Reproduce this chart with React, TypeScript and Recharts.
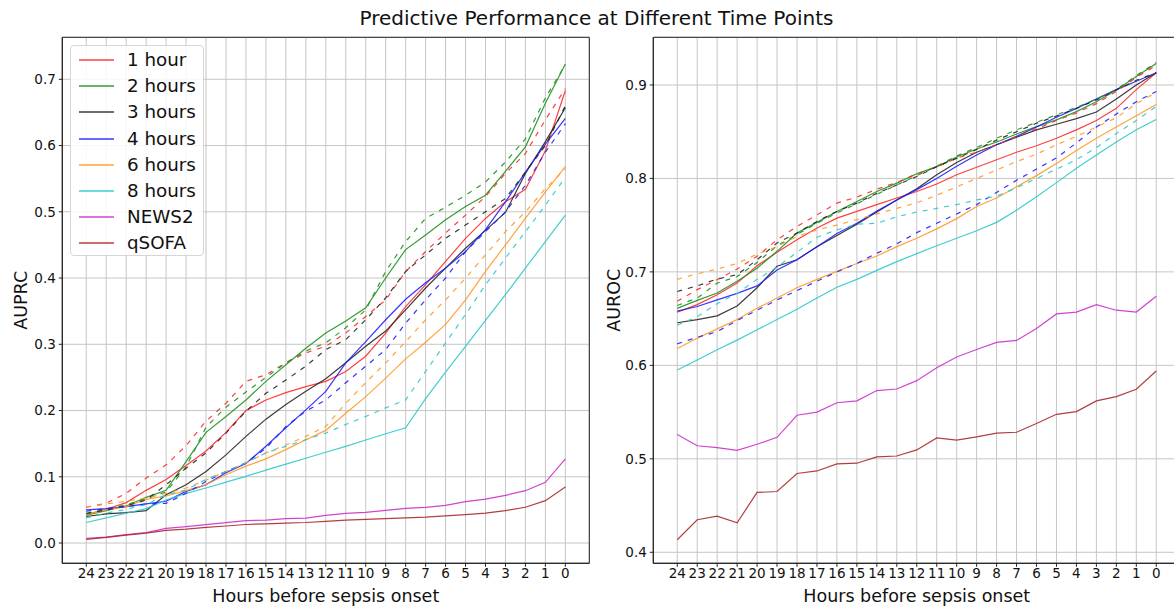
import { LineChart, Line, XAxis, YAxis, CartesianGrid, ReferenceArea, Label } from 'recharts';

const hours = [24, 23, 22, 21, 20, 19, 18, 17, 16, 15, 14, 13, 12, 11, 10, 9, 8, 7, 6, 5, 4, 3, 2, 1, 0];

// AUPRC, solid
const prc1h = [0.043, 0.051, 0.061, 0.0795, 0.096, 0.117, 0.139, 0.167, 0.2, 0.216, 0.227, 0.236, 0.244, 0.259, 0.282, 0.317, 0.357, 0.39, 0.425, 0.46, 0.49, 0.515, 0.534, 0.592, 0.683];
const prc2h = [0.042, 0.049, 0.056, 0.069, 0.0795, 0.123, 0.167, 0.191, 0.216, 0.244, 0.269, 0.294, 0.317, 0.335, 0.355, 0.4, 0.443, 0.465, 0.488, 0.508, 0.525, 0.561, 0.598, 0.664, 0.723];
const prc3h = [0.04, 0.044, 0.046, 0.049, 0.073, 0.088, 0.108, 0.133, 0.161, 0.187, 0.209, 0.229, 0.248, 0.272, 0.297, 0.32, 0.352, 0.385, 0.415, 0.445, 0.472, 0.499, 0.558, 0.606, 0.657];
const prc4h = [0.05, 0.052, 0.055, 0.059, 0.063, 0.078, 0.088, 0.106, 0.12, 0.146, 0.174, 0.201, 0.229, 0.272, 0.304, 0.337, 0.368, 0.393, 0.415, 0.44, 0.473, 0.515, 0.56, 0.602, 0.641];
const prc6h = [0.043, 0.05, 0.055, 0.066, 0.071, 0.079, 0.088, 0.103, 0.116, 0.127, 0.141, 0.156, 0.17, 0.196, 0.221, 0.249, 0.278, 0.303, 0.33, 0.367, 0.41, 0.45, 0.49, 0.53, 0.568];
const prc8h = [0.031, 0.038, 0.045, 0.052, 0.065, 0.075, 0.083, 0.092, 0.1007, 0.11, 0.119, 0.128, 0.137, 0.146, 0.1555, 0.165, 0.174, 0.218, 0.258, 0.297, 0.336, 0.375, 0.415, 0.455, 0.495];
const prcNews2 = [0.007, 0.009, 0.0126, 0.0156, 0.022, 0.0247, 0.0277, 0.0307, 0.0337, 0.0347, 0.0367, 0.0377, 0.0418, 0.0448, 0.0463, 0.0493, 0.0523, 0.0538, 0.0569, 0.0624, 0.0664, 0.072, 0.079, 0.0916, 0.127];
const prcQsofa = [0.0055, 0.0086, 0.012, 0.015, 0.019, 0.021, 0.0237, 0.0257, 0.028, 0.029, 0.03, 0.031, 0.0327, 0.0347, 0.0357, 0.0367, 0.038, 0.039, 0.041, 0.043, 0.045, 0.049, 0.054, 0.064, 0.0845];
// AUPRC, dashed
const prc1hD = [0.054, 0.06, 0.075, 0.098, 0.118, 0.147, 0.184, 0.211, 0.244, 0.254, 0.272, 0.287, 0.297, 0.317, 0.342, 0.367, 0.41, 0.44, 0.468, 0.495, 0.523, 0.558, 0.588, 0.639, 0.686];
const prc2hD = [0.044, 0.05, 0.058, 0.067, 0.077, 0.115, 0.175, 0.205, 0.228, 0.25, 0.272, 0.29, 0.302, 0.325, 0.352, 0.41, 0.455, 0.49, 0.507, 0.525, 0.545, 0.575, 0.61, 0.672, 0.722];
const prc3hD = [0.045, 0.05, 0.056, 0.065, 0.088, 0.113, 0.136, 0.166, 0.199, 0.226, 0.246, 0.267, 0.292, 0.307, 0.337, 0.37, 0.41, 0.435, 0.46, 0.48, 0.5, 0.52, 0.56, 0.6, 0.66];
const prc4hD = [0.048, 0.052, 0.055, 0.059, 0.06, 0.075, 0.093, 0.108, 0.121, 0.143, 0.176, 0.199, 0.216, 0.242, 0.267, 0.292, 0.332, 0.367, 0.4, 0.44, 0.47, 0.5, 0.54, 0.59, 0.633];
const prc6hD = [0.054, 0.059, 0.063, 0.068, 0.075, 0.083, 0.095, 0.108, 0.121, 0.136, 0.148, 0.161, 0.176, 0.211, 0.242, 0.272, 0.304, 0.337, 0.367, 0.4, 0.435, 0.47, 0.5, 0.535, 0.565];
const prc8hD = [0.038, 0.045, 0.051, 0.058, 0.073, 0.08, 0.096, 0.108, 0.121, 0.136, 0.146, 0.156, 0.166, 0.179, 0.191, 0.204, 0.216, 0.259, 0.302, 0.345, 0.39, 0.43, 0.47, 0.51, 0.552];

// AUROC, solid
const roc1h = [0.657, 0.665, 0.6756, 0.688, 0.7066, 0.721, 0.7344, 0.747, 0.7575, 0.7647, 0.772, 0.779, 0.786, 0.794, 0.804, 0.812, 0.82, 0.828, 0.835, 0.843, 0.852, 0.862, 0.875, 0.895, 0.913];
const roc2h = [0.661, 0.6695, 0.6774, 0.69, 0.704, 0.722, 0.7415, 0.753, 0.7647, 0.7754, 0.786, 0.795, 0.805, 0.8126, 0.823, 0.8315, 0.839, 0.8475, 0.8554, 0.8626, 0.8715, 0.882, 0.8947, 0.909, 0.923];
const roc3h = [0.6456, 0.649, 0.653, 0.6635, 0.683, 0.706, 0.713, 0.727, 0.739, 0.751, 0.764, 0.777, 0.789, 0.804, 0.817, 0.828, 0.836, 0.844, 0.852, 0.858, 0.864, 0.871, 0.885, 0.9, 0.913];
const roc4h = [0.658, 0.663, 0.67, 0.677, 0.685, 0.702, 0.713, 0.727, 0.741, 0.752, 0.765, 0.777, 0.788, 0.8, 0.813, 0.825, 0.836, 0.845, 0.855, 0.8654, 0.875, 0.885, 0.895, 0.904, 0.913];
const roc6h = [0.618, 0.629, 0.639, 0.649, 0.661, 0.672, 0.683, 0.692, 0.7006, 0.709, 0.717, 0.727, 0.736, 0.746, 0.757, 0.77, 0.779, 0.791, 0.803, 0.816, 0.83, 0.843, 0.855, 0.867, 0.879];
const roc8h = [0.595, 0.6058, 0.6166, 0.627, 0.638, 0.649, 0.66, 0.672, 0.6835, 0.692, 0.7016, 0.711, 0.7195, 0.728, 0.736, 0.744, 0.753, 0.766, 0.7805, 0.7955, 0.811, 0.825, 0.839, 0.852, 0.863];
const rocNews2 = [0.526, 0.514, 0.512, 0.509, 0.5156, 0.523, 0.5466, 0.55, 0.56, 0.562, 0.573, 0.5747, 0.5836, 0.5975, 0.609, 0.617, 0.6246, 0.6267, 0.6395, 0.655, 0.657, 0.665, 0.659, 0.657, 0.674];
const rocQsofa = [0.4134, 0.4348, 0.4387, 0.4316, 0.464, 0.465, 0.4843, 0.487, 0.4946, 0.4953, 0.502, 0.503, 0.5095, 0.5224, 0.52, 0.5234, 0.5274, 0.5284, 0.5377, 0.5476, 0.5505, 0.562, 0.5665, 0.5744, 0.594];
// AUROC, dashed
const roc1hD = [0.6685, 0.681, 0.6917, 0.703, 0.7166, 0.7344, 0.7486, 0.761, 0.7736, 0.78, 0.7885, 0.7957, 0.805, 0.812, 0.8217, 0.828, 0.836, 0.845, 0.853, 0.862, 0.87, 0.88, 0.893, 0.908, 0.921];
const roc2hD = [0.664, 0.672, 0.688, 0.695, 0.71, 0.728, 0.74, 0.752, 0.763, 0.773, 0.783, 0.793, 0.803, 0.813, 0.824, 0.833, 0.843, 0.852, 0.86, 0.868, 0.876, 0.885, 0.895, 0.91, 0.924];
const roc3hD = [0.679, 0.685, 0.6924, 0.697, 0.713, 0.731, 0.7415, 0.754, 0.7647, 0.7736, 0.784, 0.793, 0.802, 0.8126, 0.8215, 0.831, 0.841, 0.85, 0.859, 0.8668, 0.875, 0.884, 0.8947, 0.905, 0.913];
const roc4hD = [0.623, 0.63, 0.636, 0.648, 0.659, 0.67, 0.68, 0.69, 0.7, 0.709, 0.72, 0.73, 0.742, 0.752, 0.762, 0.772, 0.785, 0.798, 0.81, 0.822, 0.838, 0.855, 0.869, 0.882, 0.893];
const roc6hD = [0.692, 0.698, 0.703, 0.709, 0.719, 0.727, 0.738, 0.745, 0.75, 0.756, 0.762, 0.768, 0.774, 0.782, 0.791, 0.8, 0.809, 0.818, 0.826, 0.836, 0.845, 0.855, 0.865, 0.88, 0.892];
const roc8hD = [0.643, 0.652, 0.666, 0.677, 0.692, 0.705, 0.721, 0.737, 0.745, 0.751, 0.752, 0.759, 0.764, 0.768, 0.772, 0.777, 0.781, 0.79, 0.8, 0.81, 0.82, 0.833, 0.848, 0.862, 0.877];

const prcTicks = [0, 0.1, 0.2, 0.3, 0.4, 0.5, 0.6, 0.7];
const rocTicks = [0.4, 0.5, 0.6, 0.7, 0.8, 0.9];

const series = [
  { key: 'h1', name: '1 hour', color: '#ff2b2b' },
  { key: 'h2', name: '2 hours', color: '#1f911f' },
  { key: 'h3', name: '3 hours', color: '#262626' },
  { key: 'h4', name: '4 hours', color: '#2020ff' },
  { key: 'h6', name: '6 hours', color: '#ff9a26' },
  { key: 'h8', name: '8 hours', color: '#2ec9c9' },
  { key: 'news2', name: 'NEWS2', color: '#cc30cc' },
  { key: 'qsofa', name: 'qSOFA', color: '#a82a2a' },
];
const dashedKeys = ['h1', 'h2', 'h3', 'h4', 'h6', 'h8'];

const prcData = hours.map((h, i) => ({
  h,
  h1: prc1h[i], h2: prc2h[i], h3: prc3h[i], h4: prc4h[i], h6: prc6h[i], h8: prc8h[i],
  news2: prcNews2[i], qsofa: prcQsofa[i],
  h1d: prc1hD[i], h2d: prc2hD[i], h3d: prc3hD[i], h4d: prc4hD[i], h6d: prc6hD[i], h8d: prc8hD[i],
}));

const rocData = hours.map((h, i) => ({
  h,
  h1: roc1h[i], h2: roc2h[i], h3: roc3h[i], h4: roc4h[i], h6: roc6h[i], h8: roc8h[i],
  news2: rocNews2[i], qsofa: rocQsofa[i],
  h1d: roc1hD[i], h2d: roc2hD[i], h3d: roc3hD[i], h4d: roc4hD[i], h6d: roc6hD[i], h8d: roc8hD[i],
}));

const FONT = '"DejaVu Sans", sans-serif';
const INK = '#262626';
const X_DOMAIN = [-1.2, 25.2];

function Legend() {
  return (
    <div
      style={{
        position: 'absolute', left: 70, top: 45, width: 134, height: 211,
        border: '1px solid #d6d6d6', borderRadius: 4, background: 'rgba(255,255,255,0.85)',
        boxSizing: 'border-box',
      }}
    >
      {series.map((s, i) => (
        <div key={s.key} style={{ position: 'absolute', left: 0, top: 1 + i * 26.2, height: 26, width: 134 }}>
          <svg width={50} height={26} style={{ position: 'absolute', left: 0, top: 0 }}>
            <line x1={8} x2={43} y1={13} y2={13} stroke={s.color} strokeWidth={1.4} strokeOpacity={0.9} />
          </svg>
          <span style={{ position: 'absolute', left: 56, top: 1, fontSize: 18.3, lineHeight: '24px', color: '#111', whiteSpace: 'nowrap' }}>
            {s.name}
          </span>
        </div>
      ))}
    </div>
  );
}

interface PanelProps {
  data: any[];
  yDomain: number[];
  yTicks: number[];
  yLabel: string;
  yLabelOffset: number;
  yAxisWidth: number;
  marginRight: number;
}

function Panel({ data, yDomain, yTicks, yLabel, yLabelOffset, yAxisWidth, marginRight }: PanelProps) {
  return (
    <LineChart width={600} height={607} data={data} margin={{ top: 37.3, right: marginRight, bottom: 0, left: 0 }}>
      <CartesianGrid stroke="#c6c6c6" strokeWidth={1} />
      <XAxis
        dataKey="h"
        type="number"
        domain={X_DOMAIN}
        reversed
        allowDataOverflow
        ticks={hours}
        interval={0}
        height={43.7}
        tickSize={3.5}
        tickMargin={2}
        stroke={INK}
        tick={{ fill: '#111', fontSize: 13.5, fontFamily: FONT }}
      >
        <Label value="Hours before sepsis onset" position="insideBottom" offset={5} style={{ fill: '#111', fontSize: 17.5, fontFamily: FONT }} />
      </XAxis>
      <YAxis
        type="number"
        domain={yDomain}
        allowDataOverflow
        ticks={yTicks}
        interval={0}
        width={yAxisWidth}
        tickSize={3.5}
        tickMargin={3}
        stroke={INK}
        tickFormatter={(v: number) => v.toFixed(1)}
        tick={{ fill: '#111', fontSize: 13.5, fontFamily: FONT }}
      >
        <Label value={yLabel} angle={-90} position="insideLeft" offset={yLabelOffset} style={{ fill: '#111', fontSize: 17.5, fontFamily: FONT, textAnchor: 'middle' }} />
      </YAxis>
      <ReferenceArea x1={X_DOMAIN[0]} x2={X_DOMAIN[1]} y1={yDomain[0]} y2={yDomain[1]} fill="none" stroke={INK} strokeWidth={1} ifOverflow="visible" />
      {series.map((s) => (
        <Line key={s.key} type="linear" dataKey={s.key} stroke={s.color} strokeWidth={1.2} strokeOpacity={0.9} dot={false} activeDot={false} isAnimationActive={false} />
      ))}
      {series.filter((s) => dashedKeys.includes(s.key)).map((s) => (
        <Line key={s.key + 'd'} type="linear" dataKey={s.key + 'd'} stroke={s.color} strokeWidth={1.2} strokeOpacity={0.9} strokeDasharray="5 6" dot={false} activeDot={false} isAnimationActive={false} />
      ))}
    </LineChart>
  );
}

export default function App() {
  return (
    <div style={{ position: 'absolute', left: 0, top: 0, width: 1174, height: 607, overflow: 'hidden', background: '#fff', fontFamily: FONT }}>
      <div style={{ position: 'absolute', left: 0, top: 5, width: 1193, textAlign: 'center', fontSize: 20, lineHeight: '26px', color: '#111' }}>
        Predictive Performance at Different Time Points
      </div>
      <div style={{ position: 'absolute', left: 0, top: 0 }}>
        <Panel data={prcData} yDomain={[-0.0306, 0.7634]} yTicks={prcTicks} yLabel="AUPRC" yLabelOffset={21} yAxisWidth={62.3} marginRight={10.7} />
        <Legend />
      </div>
      <div style={{ position: 'absolute', left: 600, top: 0 }}>
        <Panel data={rocData} yDomain={[0.3882, 0.951]} yTicks={rocTicks} yLabel="AUROC" yLabelOffset={14} yAxisWidth={53.3} marginRight={19.8} />
      </div>
    </div>
  );
}
